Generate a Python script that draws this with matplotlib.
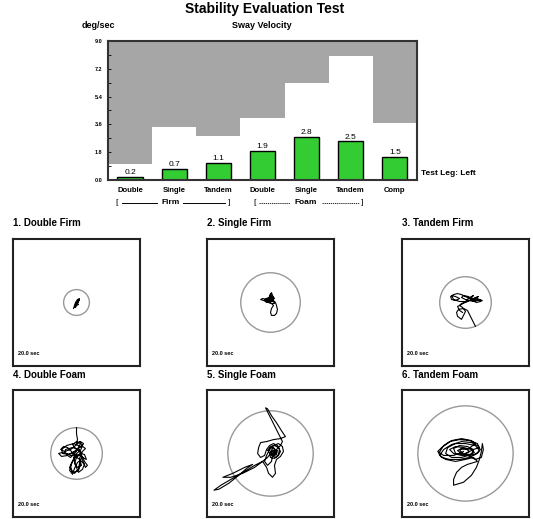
import matplotlib.pyplot as plt
from matplotlib.patches import Circle
import numpy as np

plt.rcParams["font.family"] = ["Liberation Sans", "DejaVu Sans"]

# sway velocity bar chart
categories = ["Double", "Single", "Tandem", "Double", "Single", "Tandem", "Comp"]
sway_velocity = [0.2, 0.7, 1.1, 1.9, 2.8, 2.5, 1.5]
normal_limit = [1.05, 3.4, 2.83, 4.03, 6.3, 8.05, 3.68]
y_ticks = [0.0, 1.8, 3.6, 5.4, 7.2, 9.0]

# sway circle radii and traces (same units as the panel box, +-64)
panel_titles = ["1. Double Firm", "2. Single Firm", "3. Tandem Firm",
                "4. Double Foam", "5. Single Foam", "6. Tandem Foam"]
circle_radius = [13, 30, 26, 26, 43, 48]

trace1 = [(-3, -6), (-2, -3), (-1, 0), (1, 3), (3, 4), (2, 1), (1, -1), (2, -2),
          (0, -3), (-2, -5), (-1, -2), (1, 1), (2, 3), (0, -1), (-2, -4),
          (-1, -5), (0, -2), (2, 2), (3, 3), (1, 0), (-1, -3)]
trace2 = [(-2, 4), (0, 8), (1, 10), (2, 7), (4, 4), (1, 3), (-3, 3), (-6, 2),
          (-4, 0), (0, 1), (3, 1), (4, -1), (1, -1), (-2, 0), (-4, 2), (-1, 4),
          (2, 3), (3, 5), (0, 6), (-2, 5), (-4, 4), (-6, 3), (-4, 1), (-1, 2),
          (3, 2), (5, 0), (6, -3), (7, -7), (6, -11), (4, -13), (1, -13), (0, -10),
          (1, -6), (3, -3), (1, -1), (-3, 1), (-7, 2), (-10, 3), (-8, 4), (-4, 3),
          (0, 4), (2, 6), (0, 9), (-1, 6), (1, 4), (3, 3), (0, 2), (-3, 2), (-1, 5)]
trace3 = [(10, -24), (7, -18), (4, -12), (2, -8), (-2, -6), (-7, -7), (-9, -10),
          (-8, -14), (-4, -17), (-2, -13), (0, -9), (-3, -5), (-6, -3), (-4, -1),
          (0, 0), (4, 2), (8, 1), (12, 2), (16, 2), (12, 4), (8, 3), (4, 4),
          (0, 6), (-4, 8), (-8, 9), (-12, 8), (-15, 6), (-14, 3), (-10, 2),
          (-6, 4), (-10, 6), (-14, 7), (-12, 3), (-6, 1), (2, 1), (6, 3),
          (10, 5), (13, 6), (9, 4), (4, 2), (0, 3), (-4, 5), (-2, 7), (3, 6),
          (7, 2), (11, 0), (15, 1), (17, 2), (13, 3), (9, 2), (6, 5), (8, 7),
          (4, 5), (0, 1), (-4, -2), (-8, -4), (-6, -8), (-3, -10)]
trace4 = [(0, 26), (0, 20), (1, 14), (0, 10), (4, 12), (7, 10), (5, 6), (2, 8),
          (-3, 10), (-10, 8), (-15, 4), (-14, 0), (-8, -1), (-2, 2), (3, 4),
          (-4, 6), (-11, 4), (-12, 1), (-6, -2), (0, -1), (6, -3), (8, -8),
          (11, -12), (9, -14), (7, -9), (5, -4), (3, -10), (2, -16), (-2, -20),
          (-5, -18), (-6, -12), (-3, -6), (0, -2), (-4, -8), (-7, -14), (-3, -19),
          (2, -17), (4, -11), (3, -5), (6, 2), (9, 5), (5, 8), (1, 4), (-2, 0),
          (-6, -4), (-9, -2), (-15, -3), (-18, 0), (-14, 1), (-8, -1), (-3, 1),
          (2, 6), (4, 10), (0, 12), (-4, 9), (-1, 5), (3, 2), (6, -4), (10, -6),
          (8, -1), (4, 0), (0, -4), (-2, -10), (1, -14), (5, -12), (3, -6), (-1, -3),
          (-5, 2), (-9, 6), (-13, 7), (-16, 4), (-12, 2), (-6, 4), (-1, 8), (3, 12),
          (6, 8), (4, 3), (0, 0), (-3, -4), (-1, -12), (2, -19), (6, -16), (8, -11),
          (4, -7), (1, -9), (-2, -15), (-4, -21), (-7, -17), (-5, -10), (-2, -4),
          (2, -2), (5, 1), (2, 4)]
trace5 = [(2, 0), (6, 4), (10, 8), (12, 12), (8, 20), (4, 28), (0, 36), (-3, 42),
          (-5, 46), (-3, 45), (1, 38), (6, 31), (11, 23), (15, 17), (10, 15),
          (3, 14), (-4, 12), (-10, 11), (-12, 6), (-13, 0), (-10, -4), (-6, -2),
          (-4, 4), (-1, 8), (3, 10), (7, 8), (9, 4), (8, -1), (5, -4), (1, -2),
          (-2, 2), (0, 6), (4, 5), (6, 1), (3, -2), (0, 0), (-3, -4), (-8, -8),
          (-16, -12), (-26, -18), (-38, -25), (-50, -32), (-57, -37), (-52, -36),
          (-42, -30), (-32, -22), (-24, -15), (-18, -11), (-26, -14), (-38, -20),
          (-48, -24), (-40, -24), (-28, -20), (-16, -14), (-8, -8), (-4, -14),
          (-2, -20), (2, -24), (5, -20), (4, -12), (6, -6), (10, -3), (13, 2),
          (12, 7), (8, 10), (3, 8), (-1, 4), (-4, -2), (-6, -8), (-3, -12),
          (1, -8), (2, -2), (5, 2), (3, 6), (0, 2), (2, -3), (6, -1), (7, 3),
          (4, 4), (1, 1), (3, -1), (5, 1), (2, 3), (-1, 0), (0, -4), (4, -5),
          (8, -2), (10, 2), (8, 6), (4, 8), (0, 7), (-3, 3)]
trace6 = [(0, 0), (8, 4), (14, 6), (12, 10), (4, 13), (-6, 14), (-16, 12),
          (-22, 8), (-27, 0), (-24, -4), (-16, -6), (-6, -6), (4, -4), (10, -1),
          (14, 3), (10, 8), (0, 10), (-10, 10), (-18, 6), (-20, 0), (-14, -4),
          (-4, -4), (6, -1), (8, 4), (2, 7), (-6, 8), (-12, 5), (-10, 0), (-2, -1),
          (4, 2), (0, 5), (-6, 4), (-4, 1), (2, -2), (10, -6), (16, -4), (18, 4),
          (17, 10), (16, 2), (14, -6), (11, -14), (6, -22), (-2, -29), (-12, -32),
          (-12, -26), (-9, -19), (-4, -14), (2, -11), (12, -8), (8, -4),
          (0, -6), (-10, -8), (-20, -6), (-26, -2), (-22, 4), (-14, 9), (-4, 12),
          (6, 11), (12, 8), (15, 4), (12, 0), (4, -2), (-4, -2), (-12, 0), (-16, 4),
          (-10, 7), (-2, 6), (6, 4), (9, 1), (4, -1), (-4, 0), (-8, 3), (-4, 5),
          (2, 4), (10, 10), (6, 13), (-4, 15), (-14, 13), (-24, 6), (-28, 2),
          (-22, -2), (-12, -2), (-2, 2)]
traces = [trace1, trace2, trace3, trace4, trace5, trace6]

fig = plt.figure(figsize=(5.33, 5.19), dpi=100)

fig.text(0.497, 0.983, "Stability Evaluation Test", ha="center", va="center",
         fontsize=10, fontweight="bold")
fig.text(0.184, 0.950, "deg/sec", ha="center", va="center", fontsize=6.5, fontweight="bold")
fig.text(0.492, 0.950, "Sway Velocity", ha="center", va="center", fontsize=6.5, fontweight="bold")

ax = fig.add_axes([0.2026, 0.6532, 0.5797, 0.2678])
x = np.arange(len(categories))
ax.bar(x, 9.0 - np.array(normal_limit), bottom=normal_limit, width=1.0,
       align="edge", color="#a6a6a6", linewidth=0)
ax.bar(x + 0.5, sway_velocity, width=0.57, color="#33cc33", edgecolor="black",
       linewidth=1)
for xi, v in zip(x, sway_velocity):
    ax.text(xi + 0.5, v + 0.05, f"{v:.1f}", ha="center", va="bottom", fontsize=6)
ax.set_xlim(0, 7)
ax.set_ylim(0, 9)
ax.set_yticks(y_ticks)
ax.set_yticklabels([f"{t:.1f}" for t in y_ticks], fontsize=4, fontweight="bold")
ax.set_yticks(np.arange(0.9, 9, 1.8), minor=True)
ax.tick_params(axis="y", direction="in", length=2, width=0.6, pad=4)
ax.tick_params(axis="y", which="minor", direction="in", length=2, width=0.6)
ax.set_xticks(x + 0.5)
ax.set_xticklabels(categories, fontsize=5.5, fontweight="bold")
ax.tick_params(axis="x", length=0, pad=5)
for s in ax.spines.values():
    s.set_linewidth(1.5)
    s.set_color("#333333")

# group brackets under the axis
tr = ax.get_xaxis_transform()
ty = -0.165
ax.text(0.2, ty, "[", transform=tr, ha="center", va="center", fontsize=6)
ax.text(2.74, ty, "]", transform=tr, ha="center", va="center", fontsize=6)
ax.text(1.41, ty, "Firm", transform=tr, ha="center", va="center",
        fontsize=6, fontweight="bold")
ax.plot([0.32, 1.12], [ty, ty], transform=tr, color="black", lw=0.7, clip_on=False)
ax.plot([1.7, 2.66], [ty, ty], transform=tr, color="black", lw=0.7, clip_on=False)
ax.text(3.31, ty, "[", transform=tr, ha="center", va="center", fontsize=6)
ax.text(5.76, ty, "]", transform=tr, ha="center", va="center", fontsize=6)
ax.text(4.47, ty, "Foam", transform=tr, ha="center", va="center",
        fontsize=6, fontweight="bold")
ax.plot([3.42, 4.12], [ty, ty], transform=tr, color="black",
        lw=0.6, ls=(0, (1.5, 1)), clip_on=False)
ax.plot([4.84, 5.68], [ty, ty], transform=tr, color="black",
        lw=0.6, ls=(0, (1.5, 1)), clip_on=False)
ax.text(7.1, 0.4, "Test Leg: Left", ha="left", va="center", fontsize=6, fontweight="bold")

# sway path panels
lefts = [0.0244, 0.3884, 0.7542]
bottoms = [0.2948, 0.0039]
title_y = [0.570, 0.277]
for i, (title, r, trc) in enumerate(zip(panel_titles, circle_radius, traces)):
    row, col = divmod(i, 3)
    pax = fig.add_axes([lefts[col], bottoms[row], 0.2383, 0.2447])
    pax.set_xlim(-64, 64)
    pax.set_ylim(-64, 64)
    pax.set_xticks([])
    pax.set_yticks([])
    for s in pax.spines.values():
        s.set_linewidth(1.5)
        s.set_color("#222222")
    pax.add_patch(Circle((0, 0), r, fill=False, edgecolor="#999999", lw=1.0))
    pts = np.array(trc)
    pax.plot(pts[:, 0], pts[:, 1], color="black", lw=0.8)
    pax.text(0.04, 0.1, "20.0 sec", transform=pax.transAxes, fontsize=4,
             fontweight="bold", ha="left", va="center")
    fig.text(lefts[col], title_y[row], title, ha="left", va="center", fontsize=7,
             fontweight="bold")

fig.savefig("out.png", dpi=100)
